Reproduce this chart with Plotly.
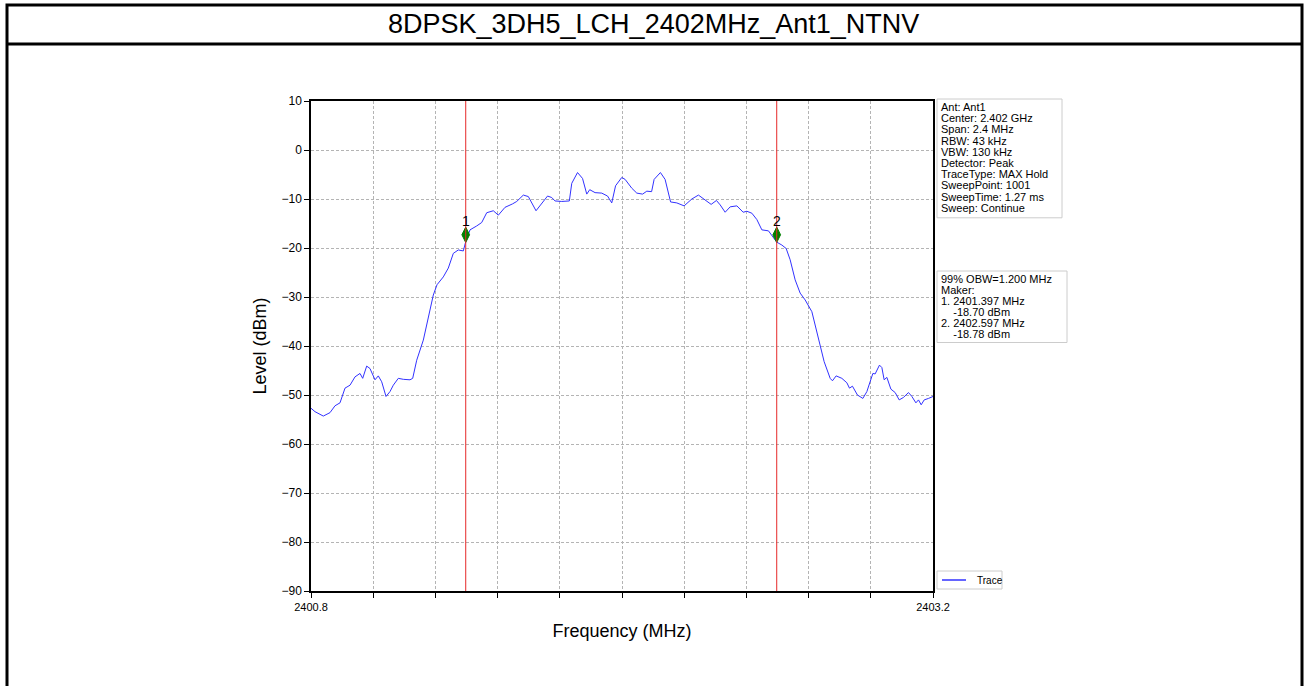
import plotly.graph_objects as go

# ---------------- data ----------------
freq_mhz = [
    2400.800, 2400.8154, 2400.8475, 2400.8733, 2400.8926, 2400.9119, 2400.9312, 2400.9505,
    2400.9698, 2400.9891, 2400.9995, 2401.0149, 2401.0277, 2401.0470, 2401.0597, 2401.0728,
    2401.0894, 2401.1048, 2401.1176, 2401.1369, 2401.1562, 2401.1820, 2401.1924, 2401.2079,
    2401.2334, 2401.2526, 2401.2719, 2401.2862, 2401.3105, 2401.3298, 2401.3491, 2401.3684,
    2401.3877, 2401.3970, 2401.4135, 2401.4394, 2401.4587, 2401.4780, 2401.5035, 2401.5228,
    2401.5486, 2401.5776, 2401.5938, 2401.6193, 2401.6386, 2401.6683, 2401.6903, 2401.7127,
    2401.7289, 2401.7416, 2401.7675, 2401.7968, 2401.8061, 2401.8284, 2401.8477, 2401.8640,
    2401.8755, 2401.8961, 2401.9219, 2401.9443, 2401.9605, 2401.9752, 2401.9991, 2402.0120,
    2402.0378, 2402.0571, 2402.0795, 2402.0957, 2402.1142, 2402.1239, 2402.1482, 2402.1663,
    2402.1875, 2402.2115, 2402.2397, 2402.2694, 2402.2949, 2402.3169, 2402.3440, 2402.3644,
    2402.3788, 2402.3981, 2402.4174, 2402.4432, 2402.4675, 2402.4818, 2402.5011, 2402.5204,
    2402.5397, 2402.5651, 2402.5844, 2402.5970, 2402.6168, 2402.6334, 2402.6488, 2402.6681,
    2402.6874, 2402.7067, 2402.7326, 2402.7580, 2402.7800, 2402.8032, 2402.8120, 2402.8263,
    2402.8483, 2402.8676, 2402.8777, 2402.8892, 2402.9085, 2402.9294, 2402.9448, 2402.9680,
    2402.9768, 2402.9935, 2403.0027, 2403.0116, 2403.0220, 2403.0375, 2403.0540, 2403.0695,
    2403.0861, 2403.1054, 2403.1185, 2403.1340, 2403.1440, 2403.1544, 2403.1660, 2403.1826,
    2403.2000,
]
level_dbm = [
    -52.7, -53.4, -54.3, -53.6, -52.2, -51.6, -48.6, -48.0,
    -46.3, -45.6, -46.6, -44.1, -44.6, -46.9, -46.1, -47.3,
    -50.3, -49.3, -48.0, -46.6, -46.8, -46.9, -46.6, -42.9,
    -38.8, -34.0, -29.6, -27.5, -25.9, -24.1, -21.1, -20.4,
    -20.6, -18.7, -16.3, -15.5, -14.8, -12.8, -12.4, -13.3,
    -11.7, -11.0, -10.5, -9.2, -9.5, -12.4, -10.9, -9.4,
    -9.7, -10.4, -10.5, -10.4, -6.8, -4.6, -5.8, -9.0,
    -8.1, -8.7, -8.8, -9.4, -10.8, -7.3, -5.6, -6.0,
    -7.8, -8.8, -9.0, -8.4, -8.5, -6.0, -4.6, -6.0,
    -10.6, -10.8, -11.4, -10.0, -9.2, -10.0, -11.1, -10.3,
    -11.2, -12.7, -11.6, -11.4, -12.7, -12.5, -12.9, -14.2,
    -16.3, -16.5, -17.8, -18.8, -19.4, -20.1, -22.4, -26.5,
    -29.2, -30.6, -33.0, -38.8, -43.2, -46.6, -47.1, -46.1,
    -46.6, -47.5, -48.6, -48.2, -50.0, -50.7, -49.3, -45.6,
    -45.7, -43.9, -44.4, -46.9, -46.4, -48.8, -49.5, -51.0,
    -50.5, -49.5, -50.3, -51.6, -51.0, -52.0, -51.0, -50.7,
    -50.3,
]

marker_freq = [2401.397, 2402.597]
marker_level = [-17.3, -17.3]
marker_names = ["1", "2"]

title_text = "8DPSK_3DH5_LCH_2402MHz_Ant1_NTNV"
info_lines = [
    "Ant: Ant1", "Center: 2.402 GHz", "Span: 2.4 MHz", "RBW: 43 kHz", "VBW: 130 kHz",
    "Detector: Peak", "TraceType: MAX Hold", "SweepPoint: 1001", "SweepTime: 1.27 ms",
    "Sweep: Continue",
]
obw_lines = [
    "99% OBW=1.200 MHz", "Maker:", "1. 2401.397 MHz", "    -18.70 dBm",
    "2. 2402.597 MHz", "    -18.78 dBm",
]
x_tick_vals = [2400.8, 2401.04, 2401.28, 2401.52, 2401.76, 2402.0, 2402.24,
               2402.48, 2402.72, 2402.96, 2403.2]
x_tick_text = ["2400.8", "", "", "", "", "", "", "", "", "", "2403.2"]
y_tick_vals = [10, 0, -10, -20, -30, -40, -50, -60, -70, -80, -90]

# ---------------- layout helpers ----------------
W, H = 1308, 686
L, R, T, B = 311, 933, 101, 591
FONT = "Arial, Liberation Sans, sans-serif"
TRACE_BLUE = "rgb(50,50,255)"
INFO_SIZE = 11
INFO_STEP = 11.2
OBW_STEP = 11.0


def px(x):
    return (x - L) / (R - L)


def py(y):
    return (B - y) / (B - T)


fig = go.Figure()

fig.add_trace(go.Scatter(
    x=freq_mhz, y=level_dbm, mode="lines", name="Trace",
    line=dict(color=TRACE_BLUE, width=1), showlegend=False, hoverinfo="skip",
))

fig.add_trace(go.Scatter(
    x=marker_freq, y=marker_level, mode="markers", showlegend=False, hoverinfo="skip",
    marker=dict(symbol="diamond-tall", size=11, color="green",
                line=dict(color="green", width=1)),
))

shapes = []
annotations = []

# marker vertical lines
for f in marker_freq:
    shapes.append(dict(type="line", x0=f, x1=f, xref="x", y0=0, y1=1, yref="paper",
                       line=dict(color="rgb(230,40,40)", width=1), layer="above"))

for f, lv, n in zip(marker_freq, marker_level, marker_names):
    annotations.append(dict(x=f, y=lv, xref="x", yref="y", text=n, showarrow=False,
                            yshift=14, font=dict(family=FONT, size=14, color="black")))

# title
annotations.append(dict(x=px(653.5), y=py(24), xref="paper", yref="paper", text=title_text,
                        showarrow=False, xanchor="center", yanchor="middle",
                        font=dict(family=FONT, size=27, color="black")))

# outer frame and title separator
shapes.append(dict(type="rect", xref="paper", yref="paper", x0=px(7), x1=px(1302),
                   y0=py(720), y1=py(5), line=dict(color="black", width=3)))
shapes.append(dict(type="line", xref="paper", yref="paper", x0=px(7), x1=px(1302),
                   y0=py(44), y1=py(44), line=dict(color="black", width=3)))

# info boxes
info_top = 99
info_bottom = info_top + 8 + INFO_STEP * (len(info_lines) - 1) + 10
shapes.append(dict(type="rect", xref="paper", yref="paper", x0=px(937), x1=px(1062),
                   y0=py(info_bottom), y1=py(info_top), line=dict(color="#cccccc", width=1),
                   fillcolor="white"))
obw_top = 271
obw_bottom = obw_top + 7.5 + OBW_STEP * (len(obw_lines) - 1) + 9
shapes.append(dict(type="rect", xref="paper", yref="paper", x0=px(937), x1=px(1067),
                   y0=py(obw_bottom), y1=py(obw_top), line=dict(color="#cccccc", width=1),
                   fillcolor="white"))
for i, t in enumerate(info_lines):
    annotations.append(dict(x=px(940), y=py(info_top + 8 + INFO_STEP * i), xref="paper",
                            yref="paper", text=t, showarrow=False, xanchor="left",
                            yanchor="middle", borderpad=0,
                            font=dict(family=FONT, size=INFO_SIZE, color="black")))
for i, t in enumerate(obw_lines):
    annotations.append(dict(x=px(940), y=py(obw_top + 7.5 + OBW_STEP * i), xref="paper",
                            yref="paper", text=t.replace(" ", "&nbsp;"), showarrow=False,
                            xanchor="left", yanchor="middle", borderpad=0,
                            font=dict(family=FONT, size=INFO_SIZE, color="black")))

# legend
shapes.append(dict(type="rect", xref="paper", yref="paper", x0=px(937), x1=px(1002),
                   y0=py(589), y1=py(571), line=dict(color="#cccccc", width=1),
                   fillcolor="white"))
shapes.append(dict(type="line", xref="paper", yref="paper", x0=px(942), x1=px(966),
                   y0=py(580), y1=py(580), line=dict(color=TRACE_BLUE, width=1.5)))
annotations.append(dict(x=px(975), y=py(580), xref="paper", yref="paper", text="Trace",
                        showarrow=False, xanchor="left", yanchor="middle",
                        font=dict(family=FONT, size=10, color="black")))

fig.update_layout(
    width=W, height=H, autosize=False,
    margin=dict(l=L, r=W - R, t=T, b=H - B, pad=0),
    paper_bgcolor="white", plot_bgcolor="white",
    font=dict(family=FONT, color="black"),
    showlegend=False, hovermode=False,
)
fig.layout.shapes = shapes
fig.layout.annotations = annotations

fig.update_xaxes(
    range=[2400.8, 2403.2], tickmode="array", tickvals=x_tick_vals, ticktext=x_tick_text,
    ticks="outside", ticklen=5, tickwidth=1, tickcolor="black",
    showline=True, linecolor="black", linewidth=1.5, mirror=True,
    showgrid=True, gridcolor="#b4b4b4", gridwidth=1, griddash="3px,2px",
    zeroline=False, tickfont=dict(size=11, family=FONT, color="black"),
    title=dict(text="Frequency (MHz)", font=dict(size=18, family=FONT, color="black"),
               standoff=12),
)
fig.update_yaxes(
    range=[-90, 10], tickmode="array", tickvals=y_tick_vals,
    ticks="outside", ticklen=5, tickwidth=1, tickcolor="black",
    showline=True, linecolor="black", linewidth=1.5, mirror=True,
    showgrid=True, gridcolor="#b4b4b4", gridwidth=1, griddash="3px,2px",
    zeroline=False, tickfont=dict(size=12, family=FONT, color="black"),
    title=dict(text="Level (dBm)", font=dict(size=18, family=FONT, color="black"),
               standoff=10),
)

fig.write_html("out.html", config={"displayModeBar": False},
               post_script="document.body.style.margin='0';")
